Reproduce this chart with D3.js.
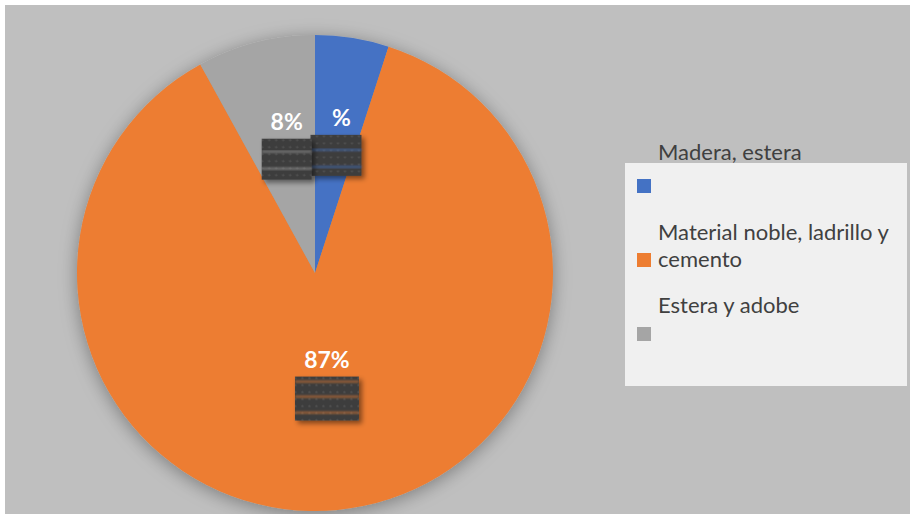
<!DOCTYPE html>
<html>
<head>
<meta charset="utf-8">
<script src="https://cdn.jsdelivr.net/npm/d3@7"></script>
<style>
  html, body { margin: 0; padding: 0; background: #ffffff; }
  svg { display: block; }
</style>
</head>
<body>
<svg id="chart" width="910" height="514"></svg>
<script>
// Tipo de material de la vivienda
const categories = ["Madera, estera", "Material noble, ladrillo y cemento", "Estera y adobe"];
const values = [5, 87, 8];
const labelTexts = ["%", "87%", "8%"];
const colors = ["#4472C4", "#ED7D31", "#A5A5A5"];
const legendLines = [["Madera, estera"], ["Material noble, ladrillo y", "cemento"], ["Estera y adobe"]];

const W = 910, H = 514;
const cx = 315, cy = 273, R = 238;

const svg = d3.select("#chart");
const defs = svg.append("defs");

// soft glow behind the pie
const glow = defs.append("filter").attr("id", "glow")
  .attr("x", "-20%").attr("y", "-20%").attr("width", "140%").attr("height", "140%");
glow.append("feDropShadow").attr("dx", 0).attr("dy", 3).attr("stdDeviation", 9)
  .attr("flood-color", "#000").attr("flood-opacity", 0.35);

const boxShadow = defs.append("filter").attr("id", "boxShadow")
  .attr("x", "-20%").attr("y", "-20%").attr("width", "150%").attr("height", "150%");
boxShadow.append("feDropShadow").attr("dx", 3).attr("dy", 3).attr("stdDeviation", 2.5)
  .attr("flood-color", "#000").attr("flood-opacity", 0.45);

const soften = defs.append("filter").attr("id", "soften");
soften.append("feGaussianBlur").attr("stdDeviation", 0.8);

// dotted texture for the label plates
const pat = defs.append("pattern").attr("id", "dots")
  .attr("patternUnits", "userSpaceOnUse").attr("width", 7).attr("height", 7);
pat.append("rect").attr("width", 7).attr("height", 7).attr("fill", "#3d3d3d");
pat.append("circle").attr("cx", 3.5).attr("cy", 3.5).attr("r", 1.1).attr("fill", "#545454");

// frame
svg.append("rect").attr("width", W).attr("height", H).attr("fill", "#ffffff");
svg.append("rect").attr("x", 5).attr("y", 5).attr("width", W - 5).attr("height", H - 5).attr("fill", "#bfbfbf");

const pie = d3.pie().sort(null).value(d => d)(values);
const arc = d3.arc().innerRadius(0).outerRadius(R);
const color = d3.scaleOrdinal().domain(d3.range(values.length)).range(colors);

const g = svg.append("g").attr("transform", `translate(${cx},${cy})`);
g.append("g").attr("filter", "url(#glow)")
  .selectAll("path").data(pie).join("path")
  .attr("d", arc)
  .attr("fill", (d, i) => color(i));

// data labels: placement radius and nudges per slice
const labelRadius = [150, 95, 150];
const labelNudge = [[3, 1], [3, 0], [9, 2]];
const plateSize = [[51, 41], [64, 44], [50, 41]];
const plateShift = [-31, -32, -25];
const plateLines = [[15, 32], [5, 20, 36], [13, 30]];

pie.forEach((d, i) => {
  const mid = (d.startAngle + d.endAngle) / 2;
  const r = labelRadius[i];
  const x = Math.sin(mid) * r + labelNudge[i][0];
  const y = -Math.cos(mid) * r + labelNudge[i][1];
  const lg = g.append("g").attr("transform", `translate(${x},${y})`);
  const py = 9;
  const px = plateShift[i];
  const [pw, ph] = plateSize[i];
  lg.append("rect").attr("x", px).attr("y", py).attr("width", pw).attr("height", ph)
    .attr("fill", "url(#dots)").attr("filter", "url(#boxShadow)");
  const lines = lg.append("g").attr("filter", "url(#soften)");
  plateLines[i].forEach(ly => {
    lines.append("line").attr("x1", px).attr("x2", px + pw)
      .attr("y1", py + ly).attr("y2", py + ly)
      .attr("stroke", colors[i]).attr("stroke-opacity", 0.7).attr("stroke-width", 1.8);
  });
  lg.append("text").attr("x", 0).attr("y", 0)
    .attr("text-anchor", "middle")
    .attr("font-family", "Lato, 'Open Sans', sans-serif")
    .attr("font-weight", "bold").attr("font-size", 23)
    .attr("fill", "#ffffff")
    .text(labelTexts[i]);
});

// legend
svg.append("rect").attr("x", 625).attr("y", 163).attr("width", 282).attr("height", 223).attr("fill", "#f0f0f0");
const lineH = 27;
const entryTop = [160, 240, 313];
const swatchTop = [179, 253, 327];
categories.forEach((c, i) => {
  svg.append("rect").attr("x", 637).attr("y", swatchTop[i]).attr("width", 14).attr("height", 14)
    .attr("fill", colors[i]);
  legendLines[i].forEach((t, k) => {
    svg.append("text").attr("x", 658).attr("y", entryTop[i] + k * lineH)
      .attr("font-family", "Lato, 'Open Sans', sans-serif")
      .attr("font-size", 22).attr("fill", "#404040")
      .text(t);
  });
});
</script>
</body>
</html>
